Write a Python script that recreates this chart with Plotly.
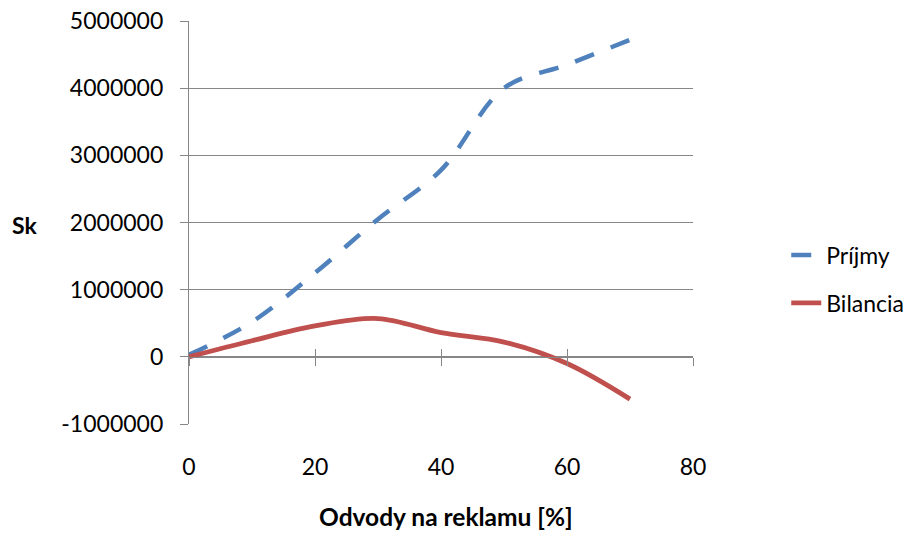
import plotly.graph_objects as go

# Data
odvody = [0, 10, 20, 30, 40, 50, 60, 70]
prijmy = [30000, 520000, 1250000, 2050000, 2780000, 4000000, 4350000, 4720000]
bilancia = [0, 240000, 460000, 570000, 360000, 220000, -100000, -630000]

y_tick_vals = [-1000000, 0, 1000000, 2000000, 3000000, 4000000, 5000000]
y_tick_text = ["-1000000", "0", "1000000", "2000000", "3000000", "4000000", "5000000"]
x_tick_vals = [0, 20, 40, 60, 80]
x_tick_text = ["0", "20", "40", "60", "80"]

FONT = "Lato"
FS = 23
GRAY = "#878787"
BLUE = "#4F81BD"
RED = "#C0504D"

fig = go.Figure()
fig.add_trace(go.Scatter(
    x=odvody, y=prijmy, name="Príjmy", mode="lines",
    line=dict(color=BLUE, width=4.5, dash="20px,18px", shape="spline", smoothing=1),
    xaxis="x", yaxis="y", legend="legend", showlegend=True,
))
fig.add_trace(go.Scatter(
    x=odvody, y=bilancia, name="Bilancia", mode="lines",
    line=dict(color=RED, width=4.8, shape="spline", smoothing=1),
    xaxis="x2", yaxis="y", legend="legend2", showlegend=True,
))

zero_pos = (0 - y_tick_vals[0]) / (y_tick_vals[-1] - y_tick_vals[0])

fig.update_layout(
    width=911, height=534,
    showlegend=True,
    margin=dict(l=189, r=218, t=21, b=110, autoexpand=False),
    paper_bgcolor="white", plot_bgcolor="white",
    font=dict(family=FONT, size=FS, color="black"),
    xaxis=dict(
        range=[0, 80], anchor="free", position=zero_pos,
        tickvals=x_tick_vals, ticktext=x_tick_text,
        ticks="outside", ticklen=8, tickwidth=1.3, tickcolor=GRAY,
        showline=True, linecolor=GRAY, linewidth=1.3,
        showgrid=False, zeroline=False, automargin=False,
        ticklabelstandoff=81,
        tickfont=dict(family=FONT, size=FS, color="black"),
    ),
    xaxis2=dict(
        range=[0, 80], anchor="free", position=zero_pos, overlaying="x",
        tickvals=x_tick_vals, showticklabels=False,
        ticks="inside", ticklen=8, tickwidth=1.3, tickcolor=GRAY,
        showline=False, showgrid=False, zeroline=False, automargin=False,
    ),
    yaxis=dict(
        range=[y_tick_vals[0], y_tick_vals[-1]],
        tickvals=y_tick_vals, ticktext=y_tick_text,
        ticks="outside", ticklen=8, tickwidth=1.3, tickcolor=GRAY,
        showline=True, linecolor=GRAY, linewidth=1.3,
        showgrid=True, gridcolor=GRAY, gridwidth=1.3,
        zeroline=False, ticklabelstandoff=12, automargin=False,
        tickfont=dict(family=FONT, size=FS, color="black"),
    ),
    legend=dict(x=1.185, y=0.4195, xanchor="left", yanchor="middle",
                bgcolor="rgba(0,0,0,0)", font=dict(family=FONT, size=FS)),
    legend2=dict(x=1.185, y=0.3006, xanchor="left", yanchor="middle",
                 bgcolor="rgba(0,0,0,0)", font=dict(family=FONT, size=FS)),
    annotations=[
        dict(text="<b>Sk</b>", xref="paper", yref="paper", x=-0.3264, y=0.4938,
             xanchor="center", yanchor="middle", showarrow=False,
             font=dict(family=FONT, size=FS, color="black")),
        dict(text="<b>Odvody na reklamu [%]</b>", xref="paper", yref="paper",
             x=0.51, y=-0.2297, xanchor="center", yanchor="middle", showarrow=False,
             borderpad=0,
             font=dict(family=FONT, size=24.5, color="black")),
    ],
)

fig.write_html("out.html")
